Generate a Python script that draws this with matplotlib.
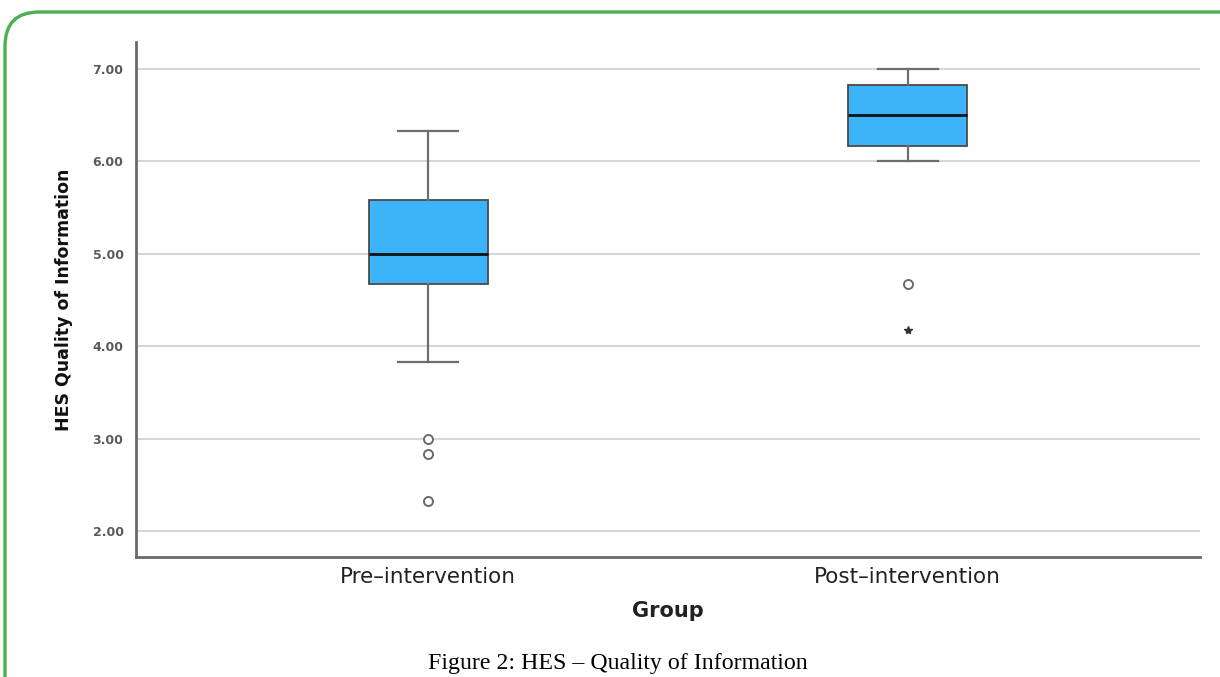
import matplotlib
matplotlib.use("Agg")
import matplotlib.pyplot as plt
from matplotlib.patches import FancyBboxPatch

groups = ["Pre\u2013intervention", "Post\u2013intervention"]
whisker_low = [3.83, 6.00]
q1 = [4.67, 6.17]
median = [5.00, 6.50]
q3 = [5.58, 6.83]
whisker_high = [6.33, 7.00]
outliers_circle = [[3.00, 2.83, 2.33], [4.67]]
outliers_star = [[], [4.17]]
yticks = [2.0, 3.0, 4.0, 5.0, 6.0, 7.0]

fig = plt.figure(figsize=(12.2, 6.77), dpi=100)
ax = fig.add_axes([136/1220, 1-557/677, (1200-136)/1220, (557-42)/677])

stats = []
for i, g in enumerate(groups):
    stats.append(dict(label=g, whislo=whisker_low[i], q1=q1[i], med=median[i],
                      q3=q3[i], whishi=whisker_high[i], fliers=outliers_circle[i]))
positions = list(range(len(groups)))
ax.bxp(stats, positions=positions, widths=0.248, patch_artist=True,
       boxprops=dict(facecolor="#3db4fa", edgecolor="#4a4a4a", linewidth=1.3),
       medianprops=dict(color="#111111", linewidth=2.0),
       whiskerprops=dict(color="#6e6e6e", linewidth=1.6),
       capprops=dict(color="#6e6e6e", linewidth=1.6),
       capwidths=0.125,
       flierprops=dict(marker="o", markerfacecolor="white", markeredgecolor="#6a6a6a",
                       markersize=6.5, markeredgewidth=1.4),
       zorder=3)
for i, vals in enumerate(outliers_star):
    if vals:
        ax.plot([positions[i]]*len(vals), vals, linestyle="none", marker="*",
                color="#333333", markersize=6, zorder=4)

ax.set_xlim(-0.61, 1.61)
ax.set_ylim(1.72, 7.29)
ax.set_yticks(yticks)
ax.set_yticklabels([f"{v:.2f}" for v in yticks], fontsize=9, fontweight="bold",
                   color="#5a5a5a", family="DejaVu Sans")
ax.set_xticks(positions)
ax.set_xticklabels(groups, fontsize=15.5, family="DejaVu Sans", color="#222222")
ax.tick_params(axis="both", length=0)
ax.tick_params(axis="y", pad=9)
ax.tick_params(axis="x", pad=7)
ax.yaxis.grid(True, color="#d6d6d6", linewidth=1.5, zorder=0)
ax.set_axisbelow(True)
for s in ["top", "right"]:
    ax.spines[s].set_visible(False)
for s in ["left", "bottom"]:
    ax.spines[s].set_color("#6a6a6a")
    ax.spines[s].set_linewidth(2)
ax.set_ylabel("HES Quality of Information", fontsize=12.5, fontweight="bold",
              family="DejaVu Sans", color="#111111", labelpad=14)
ax.set_xlabel("Group", fontsize=15, fontweight="bold", family="DejaVu Sans",
              color="#222222", labelpad=10)

fig.text(618/1220, 1-663/677, "Figure 2: HES \u2013 Quality of Information",
         ha="center", va="center", fontsize=17.2, family="Liberation Serif")

frame = FancyBboxPatch((5/1220, -0.2), 1.2, (677-12)/677 + 0.2,
                       boxstyle="round,pad=0,rounding_size=0.028",
                       transform=fig.transFigure, facecolor="none",
                       edgecolor="#4caf50", linewidth=2.4, mutation_aspect=1220/677)
fig.patches.append(frame)

fig.savefig("out.png", dpi=100)
